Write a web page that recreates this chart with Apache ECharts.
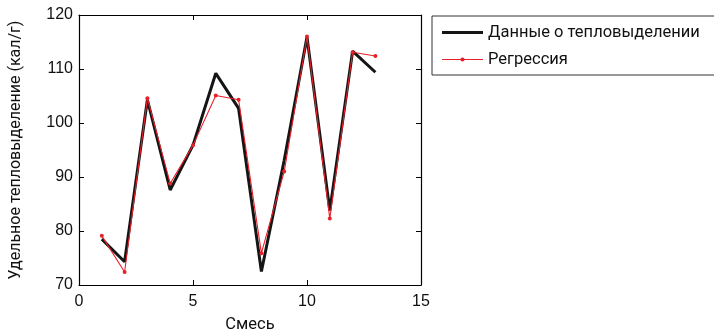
<!DOCTYPE html>
<html><head><meta charset="utf-8">
<script src="https://cdn.jsdelivr.net/npm/echarts@6/dist/echarts.min.js"></script>
<style>html,body{margin:0;padding:0;background:#fff}#c{width:714px;height:335px}</style>
</head><body><div id="c"></div>
<script>
const mixes = [1,2,3,4,5,6,7,8,9,10,11,12,13];
const heatData = [78.5,74.3,104.3,87.6,95.9,109.2,102.7,72.5,93.1,115.9,83.8,113.3,109.4];
const regression = [79.1,72.4,104.6,88.8,95.9,105.1,104.3,75.9,91.0,116.0,82.3,113.1,112.4];
const xTicks = [0,5,10,15];
const yTicks = [70,80,90,100,110,120];

const condFont = '"Roboto", sans-serif';
const tickFont = '"Liberation Sans", Arial, sans-serif';
const chart = echarts.init(document.getElementById('c'));
const axisCommon = {
  axisLine:{show:true,onZero:false,lineStyle:{color:'#000',width:1.2}},
  axisTick:{show:true,inside:true,length:5,lineStyle:{color:'#000'}},
  splitLine:{show:false}
};
const corners = 'M0,0h0.02v0.02h-0.02Z M40.98,13.98h0.02v0.02h-0.02Z ';
const blackIcon = 'path://' + corners + 'M0,5.5H41V8.5H0Z';
const redIcon = 'path://' + corners + 'M0,6.4H41V7.6H0Z M22.6,7A2.1,2.1 0 1,1 18.4,7A2.1,2.1 0 1,1 22.6,7Z';
chart.setOption({
  animation:false,
  grid:{left:79,right:293,top:15,bottom:50,containLabel:false,outerBoundsMode:'none'},
  legend:{
    left:432, top:16, orient:'vertical',
    borderColor:'#333', borderWidth:1, padding:[8,60,7,10],
    itemWidth:41, itemHeight:14, itemGap:10, symbolKeepAspect:false,
    itemStyle:{borderWidth:0},
    textStyle:{fontFamily:condFont,fontSize:16.5,color:'#111'},
    data:[{name:'Данные о тепловыделении',icon:blackIcon},{name:'Регрессия',icon:redIcon}]
  },
  xAxis:[
    Object.assign({type:'value',min:xTicks[0],max:xTicks[xTicks.length-1],interval:5,
      name:'Смесь',nameLocation:'middle',nameGap:31,
      nameTextStyle:{fontFamily:condFont,fontSize:16.5,color:'#111'},
      axisLabel:{fontFamily:tickFont,fontSize:16,color:'#111',margin:9}},axisCommon),
    Object.assign({type:'value',position:'top',min:0,max:15,interval:5,axisLabel:{show:false}},axisCommon)
  ],
  yAxis:[
    Object.assign({type:'value',min:yTicks[0],max:yTicks[yTicks.length-1],interval:10,
      name:'Удельное тепловыделение (кал/г)',nameLocation:'middle',nameGap:55,
      nameTextStyle:{fontFamily:condFont,fontSize:16,color:'#111'},
      axisLabel:{fontFamily:tickFont,fontSize:16,color:'#111',margin:6}},axisCommon),
    Object.assign({type:'value',position:'right',min:70,max:120,interval:10,axisLabel:{show:false}},axisCommon)
  ],
  series:[
    {name:'Данные о тепловыделении',type:'line',data:mixes.map((x,i)=>[x,heatData[i]]),
     showSymbol:false,symbol:'none',lineStyle:{color:'#151515',width:3},itemStyle:{color:'#151515'},z:2},
    {name:'Регрессия',type:'line',data:mixes.map((x,i)=>[x,regression[i]]),
     symbol:'circle',symbolSize:4,lineStyle:{color:'#e8202a',width:1.1},itemStyle:{color:'#e8202a'},z:3}
  ]
});
</script></body></html>
